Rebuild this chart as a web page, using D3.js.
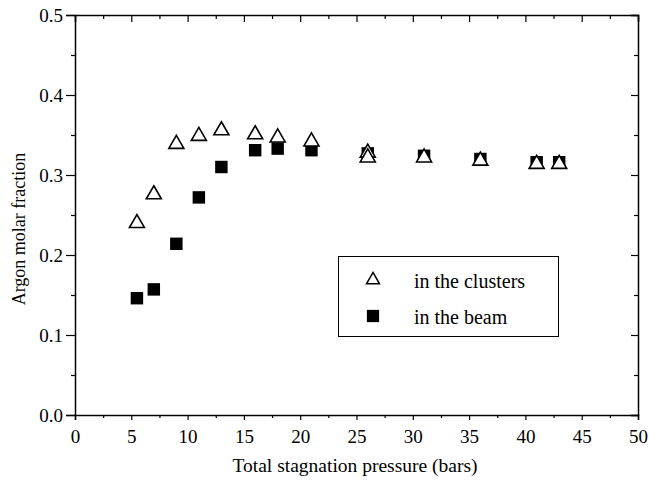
<!DOCTYPE html>
<html>
<head>
<meta charset="utf-8">
<script src="https://cdn.jsdelivr.net/npm/d3@7"></script>
</head>
<body style="margin:0;background:#fff">
<script>
var width = 649,
    height = 480,
    serif = "'Liberation Serif', 'Times New Roman', Times, serif";

// pressures (bars) and argon molar fractions
var clusterPressure = [5.5, 7, 9, 11, 13, 16, 18, 21, 26, 26, 31, 36, 41, 43];
var clusterFraction = [0.241, 0.277, 0.340, 0.350, 0.357, 0.352, 0.348, 0.343, 0.329, 0.323, 0.323, 0.319, 0.315, 0.315];
var beamPressure = [5.5, 7, 9, 11, 13, 16, 18, 21, 26, 31, 36, 41, 43];
var beamFraction = [0.146, 0.157, 0.214, 0.272, 0.310, 0.331, 0.333, 0.331, 0.327, 0.324, 0.320, 0.316, 0.316];

var xTicks = [0, 5, 10, 15, 20, 25, 30, 35, 40, 45, 50];
var yTicks = [0.0, 0.1, 0.2, 0.3, 0.4, 0.5];
var legendLabels = ["in the clusters", "in the beam"];

var x = d3.scaleLinear().domain([0, 50]).range([75, 638]);
var y = d3.scaleLinear().domain([0, 0.5]).range([415, 15]);

var svg = d3.select("body").append("svg")
    .attr("width", width)
    .attr("height", height);

var xMinor = d3.range(2.5, 50, 5);
var yMinor = d3.range(0.05, 0.5, 0.1);

// bottom axis
svg.append("g")
    .attr("transform", "translate(0," + y(0) + ")")
    .call(d3.axisBottom(x).tickValues(xMinor).tickSize(3).tickFormat(""))
    .call(function(g) { g.select(".domain").remove(); });
svg.append("g")
    .attr("transform", "translate(0," + y(0) + ")")
    .call(d3.axisBottom(x).tickValues(xTicks).tickSize(5).tickPadding(10).tickFormat(d3.format("d")));

// top axis (ticks inward)
svg.append("g")
    .attr("transform", "translate(0," + y(0.5) + ")")
    .call(d3.axisBottom(x).tickValues(xMinor).tickSize(4).tickFormat(""))
    .call(function(g) { g.select(".domain").remove(); });
svg.append("g")
    .attr("transform", "translate(0," + y(0.5) + ")")
    .call(d3.axisBottom(x).tickValues(xTicks).tickSize(7).tickFormat(""));

// left axis
svg.append("g")
    .attr("transform", "translate(" + x(0) + ",0)")
    .call(d3.axisLeft(y).tickValues(yMinor).tickSize(4).tickFormat(""))
    .call(function(g) { g.select(".domain").remove(); });
svg.append("g")
    .attr("transform", "translate(" + x(0) + ",0)")
    .call(d3.axisLeft(y).tickValues(yTicks).tickSize(9).tickPadding(3).tickFormat(d3.format(".1f")));

// right axis (ticks inward)
svg.append("g")
    .attr("transform", "translate(" + x(50) + ",0)")
    .call(d3.axisLeft(y).tickValues(yMinor).tickSize(4).tickFormat(""))
    .call(function(g) { g.select(".domain").remove(); });
svg.append("g")
    .attr("transform", "translate(" + x(50) + ",0)")
    .call(d3.axisLeft(y).tickValues(yTicks).tickSize(7).tickFormat(""));

svg.selectAll(".domain").attr("stroke-width", 1.5);
svg.selectAll(".tick line").attr("stroke-width", 1.2);
svg.selectAll("g").attr("font-family", null);
svg.selectAll(".tick text").style("font-size", "19px");

// axis titles
svg.append("text")
    .attr("x", 355)
    .attr("y", 472)
    .attr("text-anchor", "middle")
    .style("font-size", "19.5px")
    .text("Total stagnation pressure (bars)");

svg.append("text")
    .attr("transform", "translate(25,229)rotate(-90)")
    .attr("text-anchor", "middle")
    .style("font-size", "18px")
    .text("Argon molar fraction");

var square = d3.symbol().type(d3.symbolSquare).size(155);
var triangle = function(s) {
  var h = s * Math.sqrt(3) / 2;
  return "M0," + (-h * 2 / 3) + "L" + (s / 2) + "," + (h / 3) + "L" + (-s / 2) + "," + (h / 3) + "Z";
};

// beam points
svg.append("g").selectAll("path")
    .data(beamPressure)
    .enter().append("path")
    .attr("d", square)
    .attr("transform", function(d, i) { return "translate(" + x(d) + "," + y(beamFraction[i]) + ")"; })
    .attr("fill", "#000");

// cluster points
svg.append("g").selectAll("path")
    .data(clusterPressure)
    .enter().append("path")
    .attr("d", triangle(15))
    .attr("transform", function(d, i) { return "translate(" + x(d) + "," + (y(clusterFraction[i]) + 1) + ")"; })
    .attr("fill", "#fff")
    .attr("stroke", "#000")
    .attr("stroke-width", 1.6);

// legend
var legend = svg.append("g");
legend.append("rect")
    .attr("x", 338.5)
    .attr("y", 256.5)
    .attr("width", 220)
    .attr("height", 80)
    .attr("fill", "#fff")
    .attr("stroke", "#000")
    .attr("stroke-width", 1);

legend.append("path")
    .attr("d", triangle(13))
    .attr("transform", "translate(373,280)")
    .attr("fill", "#fff")
    .attr("stroke", "#000")
    .attr("stroke-width", 1.5);
legend.append("path")
    .attr("d", d3.symbol().type(d3.symbolSquare).size(150))
    .attr("transform", "translate(373,316)");

legend.selectAll("text")
    .data(legendLabels)
    .enter().append("text")
    .attr("x", 414)
    .attr("y", function(d, i) { return 288 + i * 35.5; })
    .style("font-size", "20px")
    .text(function(d) { return d; });

svg.selectAll("text").style("font-family", serif).style("fill", "#000");
</script>
</body>
</html>
